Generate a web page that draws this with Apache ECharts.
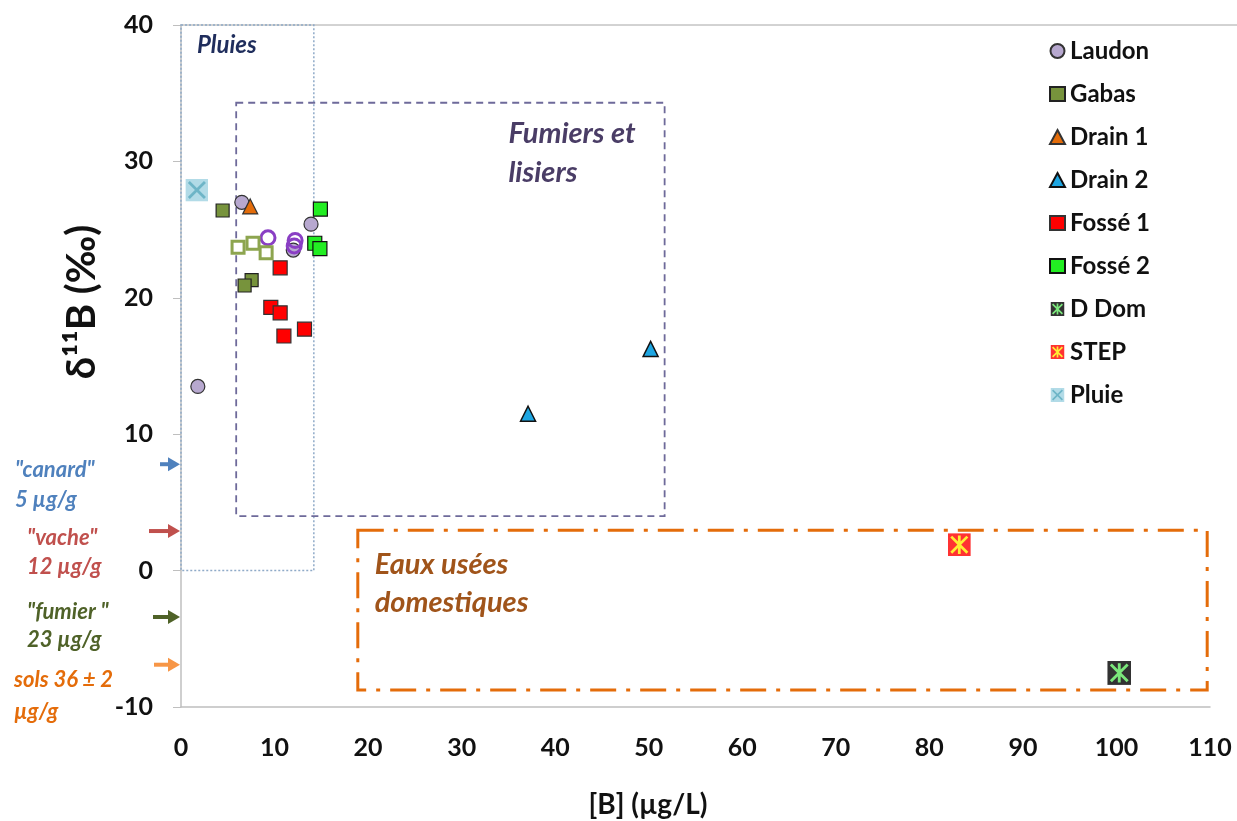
<!DOCTYPE html>
<html>
<head>
<meta charset="utf-8">
<script src="https://cdn.jsdelivr.net/npm/echarts@6/dist/echarts.min.js"></script>
<style>
  html, body { margin: 0; padding: 0; background: #fff; }
  #chart { width: 1237px; height: 821px; }
</style>
</head>
<body>
<div id="chart"></div>
<script>
// Données : [B] (µg/L), δ11B (‰)
const laudon = [[1.8, 13.5], [6.5, 27.0], [12.0, 23.5], [13.9, 25.4]];
const laudonOpen = [[9.3, 24.4], [12.2, 24.2], [12.1, 23.8]];
const gabas = [[4.45, 26.4], [7.55, 21.3], [6.8, 20.9]];
const gabasOpen = [[6.1, 23.7], [7.7, 24.0], [9.1, 23.3]];
const drain1 = [[7.4, 26.7]];
const drain2 = [[37.1, 11.5], [50.2, 16.25]];
const fosse1 = [[10.6, 22.2], [9.6, 19.3], [10.6, 18.9], [11.0, 17.2], [13.2, 17.7]];
const fosse2 = [[14.9, 26.5], [14.3, 24.0], [14.85, 23.6]];
const dDom = [[100.3, -7.5]];
const step = [[83.2, 1.9]];
const pluie = [[1.7, 27.9]];

// Cadres d'interprétation : [xmin, ymax] -> [xmax, ymin]
const boxPluies = [[0, 40], [14.2, 0]];
const boxFumiers = [[5.9, 34.3], [51.7, 4.0]];
const boxEaux = [[18.9, 2.95], [109.7, -8.75]];

// Repères à gauche de l'axe (valeurs de δ11B)
const refNames = ['"canard"', '"vache"', '"fumier "', 'sols 36 ± 2'];
const refSub = ['5 µg/g', '12 µg/g', '23 µg/g', 'µg/g'];
const refValues = [7.8, 2.9, -3.4, -6.9];
const refColors = ['#4f81bd', '#c0504d', '#4f6228', '#f79646'];
const refTextColors = ['#4f81bd', '#c0504d', '#4f6228', '#e46c0a'];

const legendNames = ['Laudon', 'Gabas', 'Drain 1', 'Drain 2', 'Fossé 1', 'Fossé 2', 'D Dom', 'STEP', 'Pluie'];

const FONT = 'Lato';

function svgSymbol(bg, stroke, star) {
    const lines = star
        ? 'M3 3L17 17M17 3L3 17M10 2V18'
        : 'M3 3L17 17M17 3L3 17';
    const svg = "<svg xmlns='http://www.w3.org/2000/svg' width='20' height='20'>" +
        "<rect width='20' height='20' fill='" + bg + "'/>" +
        "<path d='" + lines + "' stroke='" + stroke + "' stroke-width='2.4' fill='none'/></svg>";
    return 'image://data:image/svg+xml;charset=utf-8,' + encodeURIComponent(svg);
}

function boxArea(box, color, type, width) {
    return {
        silent: true,
        itemStyle: { color: 'rgba(0,0,0,0)', borderColor: color, borderWidth: width, borderType: type },
        data: [[{ coord: box[0] }, { coord: box[1] }]]
    };
}

const chart = echarts.init(document.getElementById('chart'));

const option = {
    backgroundColor: '#fff',
    animation: false,
    textStyle: { fontFamily: FONT },
    grid: { left: 181, right: 27, top: 25, bottom: 114 },
    legend: {
        orient: 'vertical',
        left: 1044,
        top: 34,
        data: legendNames,
        itemWidth: 15,
        itemHeight: 14,
        itemGap: 19,
        textStyle: { fontFamily: FONT, fontSize: 24, fontWeight: 'bold', color: '#111', lineHeight: 24 }
    },
    xAxis: {
        type: 'value',
        min: 0,
        max: 110,
        interval: 10,
        splitLine: { show: false },
        axisTick: { show: false },
        axisLine: { onZero: false, lineStyle: { color: '#bfbfbf', width: 1.5 } },
        axisLabel: { margin: 28, fontFamily: FONT, fontSize: 25, fontWeight: 'bold', color: '#111' }
    },
    yAxis: {
        type: 'value',
        min: -10,
        max: 40,
        interval: 10,
        splitLine: { show: false },
        axisTick: { show: true, length: 8, lineStyle: { color: '#bfbfbf' } },
        axisLine: { show: true, onZero: false, lineStyle: { color: '#bfbfbf', width: 1.5 } },
        axisLabel: { margin: 28, fontFamily: FONT, fontSize: 25, fontWeight: 'bold', color: '#111' }
    },
    series: [
        {
            name: 'Cadres', type: 'scatter', data: [], silent: true,
            markArea: boxArea(boxPluies, '#8faac8', [2, 2], 1.5)
        },
        {
            name: 'Cadres2', type: 'scatter', data: [], silent: true,
            markArea: boxArea(boxFumiers, '#6e6a9a', [7, 5], 1.8)
        },
        {
            name: 'Cadres3', type: 'scatter', data: [], silent: true,
            markArea: boxArea(boxEaux, '#e46c0a', [26, 10, 4, 10], 3)
        },
        {
            name: 'Pluie', type: 'scatter', data: pluie, symbol: svgSymbol('#9fd3e2', '#4aa3ba', false),
            symbolSize: 23
        },
        {
            name: 'Laudon', type: 'scatter', data: laudon, symbol: 'circle', symbolSize: 14,
            itemStyle: { color: '#b7a8cf', borderColor: '#333', borderWidth: 1.2, opacity: 1 }
        },
        {
            name: 'Laudon ouvert', type: 'scatter', data: laudonOpen, symbol: 'circle', symbolSize: 14,
            itemStyle: { color: 'rgba(255,255,255,0)', borderColor: '#8a3fc4', borderWidth: 3, opacity: 1 }
        },
        {
            name: 'Gabas', type: 'scatter', data: gabas, symbol: 'rect', symbolSize: 13,
            itemStyle: { color: '#77933c', borderColor: '#222', borderWidth: 1.2, opacity: 1 }
        },
        {
            name: 'Gabas ouvert', type: 'scatter', data: gabasOpen, symbol: 'rect', symbolSize: 12,
            itemStyle: { color: '#fff', borderColor: '#8da54f', borderWidth: 3, opacity: 1 }
        },
        {
            name: 'Drain 1', type: 'scatter', data: drain1, symbol: 'triangle', symbolSize: 15,
            itemStyle: { color: '#e36c0a', borderColor: '#333', borderWidth: 1.2, opacity: 1 }
        },
        {
            name: 'Drain 2', type: 'scatter', data: drain2, symbol: 'triangle', symbolSize: 15,
            itemStyle: { color: '#1ea6e2', borderColor: '#111', borderWidth: 1.5, opacity: 1 }
        },
        {
            name: 'Fossé 1', type: 'scatter', data: fosse1, symbol: 'rect', symbolSize: 14,
            itemStyle: { color: '#ff0000', borderColor: '#333', borderWidth: 1.2, opacity: 1 }
        },
        {
            name: 'Fossé 2', type: 'scatter', data: fosse2, symbol: 'rect', symbolSize: 14,
            itemStyle: { color: '#22ee22', borderColor: '#111', borderWidth: 1.2, opacity: 1 }
        },
        {
            name: 'D Dom', type: 'scatter', data: dDom, symbol: svgSymbol('#000', '#5be25b', true),
            symbolSize: 24
        },
        {
            name: 'STEP', type: 'scatter', data: step, symbol: svgSymbol('#ff0000', '#ffea00', true),
            symbolSize: 23
        }
    ]
};

chart.setOption(option);

// Annotations placées à partir des coordonnées des données
function px(x, y) {
    return chart.convertToPixel({ gridIndex: 0 }, [x, y]);
}

const graphics = [];
const gridLeft = px(0, 0)[0];
const topY = px(0, 40)[1];

// trait supérieur du cadre
graphics.push({
    type: 'line', silent: true,
    shape: { x1: gridLeft, y1: topY, x2: 1237, y2: topY },
    style: { stroke: '#a6a6a6', lineWidth: 1 }
});

// titre de l'axe Y
graphics.push({
    type: 'text', silent: true,
    x: 82, y: 302, rotation: Math.PI / 2,
    style: {
        text: 'δ¹¹B (‰)', fontFamily: FONT, fontSize: 40, fontWeight: 'bold', fill: '#111',
        align: 'center', verticalAlign: 'middle'
    }
});

// titre de l'axe X
graphics.push({
    type: 'text', silent: true,
    x: 648, y: 805,
    style: {
        text: '[B] (µg/L)', fontFamily: FONT, fontSize: 28, fontWeight: 'bold', fill: '#111',
        align: 'center', verticalAlign: 'middle'
    }
});

// étiquettes des cadres
const p1 = px(1.7, 38.5);
graphics.push({
    type: 'text', silent: true, x: p1[0], y: p1[1],
    style: {
        text: 'Pluies', fontFamily: FONT, fontSize: 24, fontWeight: 'bold', fontStyle: 'italic',
        fill: '#1f2d5c', verticalAlign: 'middle'
    }
});
const p2 = px(35.0, 32.1);
graphics.push({
    type: 'text', silent: true, x: p2[0], y: p2[1] - 19,
    style: {
        text: 'Fumiers et\nlisiers', fontFamily: FONT, fontSize: 29, fontWeight: 'bold', fontStyle: 'italic',
        fill: '#4a3d66', lineHeight: 39, verticalAlign: 'top'
    }
});
const p3 = px(20.7, 0.45);
graphics.push({
    type: 'text', silent: true, x: p3[0], y: p3[1] - 19,
    style: {
        text: 'Eaux usées\ndomestiques', fontFamily: FONT, fontSize: 29, fontWeight: 'bold', fontStyle: 'italic',
        fill: '#a0541a', lineHeight: 38, verticalAlign: 'top'
    }
});

// flèches et repères à gauche
const refTextX = [15, 27, 27, 14];
const refArrowStart = [160, 149, 153, 154];
refValues.forEach((v, i) => {
    const y = px(0, v)[1];
    const x2 = gridLeft - 1;
    graphics.push({
        type: 'line', silent: true,
        shape: { x1: refArrowStart[i], y1: y, x2: x2 - 8, y2: y },
        style: { stroke: refColors[i], lineWidth: 4 }
    });
    graphics.push({
        type: 'polygon', silent: true,
        shape: { points: [[x2 - 12, y - 7], [x2, y], [x2 - 12, y + 7]] },
        style: { fill: refColors[i] }
    });
});
const refLine1 = [470, 538, 612, 680];
const refLine2 = [500, 567, 640, 712];
refNames.forEach((t, i) => {
    graphics.push({
        type: 'text', silent: true, x: refTextX[i], y: refLine1[i],
        style: {
            text: t, fontFamily: FONT, fontSize: 22, fontWeight: 'bold', fontStyle: 'italic',
            fill: refTextColors[i], verticalAlign: 'middle'
        }
    });
    graphics.push({
        type: 'text', silent: true, x: refTextX[i], y: refLine2[i],
        style: {
            text: refSub[i], fontFamily: FONT, fontSize: 22, fontWeight: 'bold', fontStyle: 'italic',
            fill: refTextColors[i], verticalAlign: 'middle'
        }
    });
});

chart.setOption({ graphic: graphics });
</script>
</body>
</html>
